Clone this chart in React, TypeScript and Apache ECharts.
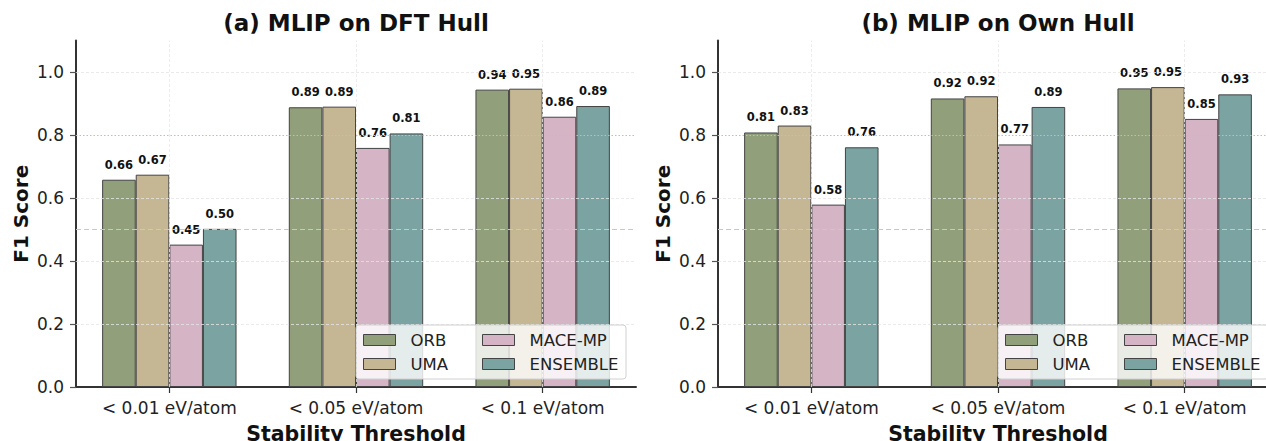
import React, { useEffect, useRef } from 'react';
import * as echarts from 'echarts';

const categories = ['< 0.01 eV/atom', '< 0.05 eV/atom', '< 0.1 eV/atom'];
const seriesNames = ['ORB', 'UMA', 'MACE-MP', 'ENSEMBLE'];
const seriesColors = ['#91a07a', '#c6b794', '#d5b4c6', '#7aa3a2'];
const dftOrb = [0.658, 0.888, 0.944];
const dftUma = [0.674, 0.89, 0.947];
const dftMace = [0.452, 0.759, 0.858];
const dftEns = [0.502, 0.805, 0.892];
const ownOrb = [0.808, 0.916, 0.948];
const ownUma = [0.83, 0.923, 0.952];
const ownMace = [0.579, 0.77, 0.851];
const ownEns = [0.761, 0.889, 0.929];
const yTicks = [0, 0.2, 0.4, 0.6, 0.8, 1.0];
const titles = ['(a) MLIP on DFT Hull', '(b) MLIP on Own Hull'];
const yName = 'F1 Score';
const xName = 'Stability Threshold';

const FONT = 'DejaVu Sans';

export default function App() {
  const ref = useRef<HTMLDivElement>(null);
  useEffect(() => {
    document.body.style.margin = '0';
    if (!ref.current) return;
    const chart = echarts.init(ref.current, null, { renderer: 'svg' });
    const panels = [
      [dftOrb, dftUma, dftMace, dftEns],
      [ownOrb, ownUma, ownMace, ownEns],
    ];
    const gridLefts = [76, 718];
    const gridW = 560;
    const gridTop = 40.5;
    const gridH = 346.5;

    const grids = gridLefts.map((l) => ({ left: l, top: gridTop, width: gridW, height: gridH, outerBoundsMode: 'none', containLabel: false }));
    const xAxes = gridLefts.map((_, i) => ({
      type: 'category',
      gridIndex: i,
      data: categories,
      axisLine: { show: true, lineStyle: { color: '#333', width: 2 } },
      axisTick: { show: true, alignWithLabel: true, length: 6, lineStyle: { color: '#333', width: 1.2 } },
      axisLabel: { fontSize: 17, color: '#222', margin: 12, fontFamily: FONT },
      splitLine: { show: false },
      name: xName,
      nameLocation: 'middle',
      nameGap: 36,
      nameTextStyle: { fontWeight: 'bold', fontSize: 20.5, color: '#111', fontFamily: FONT },
    }));
    const yAxes = gridLefts.map((_, i) => ({
      type: 'value',
      gridIndex: i,
      min: 0,
      max: 1.1,
      interval: 0.2,
      axisLine: { show: true, lineStyle: { color: '#333', width: 2 } },
      axisTick: { show: true, length: 6, customValues: yTicks, lineStyle: { color: '#555', width: 1.2 } },
      axisLabel: { customValues: yTicks, formatter: (v: number) => v.toFixed(1), fontSize: 17, color: '#222', margin: 12, fontFamily: FONT },
      splitLine: { show: false },
      name: yName,
      nameLocation: 'middle',
      nameGap: 45,
      nameRotate: 90,
      nameTextStyle: { fontWeight: 'bold', fontSize: 20, color: '#111', fontFamily: FONT },
    }));

    const series: any[] = [];
    panels.forEach((vals, p) => {
      const hLines = yTicks.filter((t) => t > 0 && Math.abs(t - 0.8) > 1e-9).map((t) => ({
        yAxis: t,
        lineStyle: { color: '#e4e4e4', type: [3, 2], width: 0.8 },
      }));
      const vLines = categories.map((c) => ({ xAxis: c, lineStyle: { color: '#e8e8e8', type: [3, 2], width: 0.8 } }));
      series.push({
        type: 'line',
        name: 'grid' + p,
        xAxisIndex: p,
        yAxisIndex: p,
        data: [],
        z: 1,
        silent: true,
        markLine: {
          silent: true,
          symbol: ['none', 'none'],
          label: { show: false },
          data: [
            ...hLines,
            ...vLines,
            { yAxis: 0.5, lineStyle: { color: '#c8c8c8', type: [5, 3], width: 1.2 } },
            { yAxis: 0.8, lineStyle: { color: '#a9cca9', type: [1.5, 2], width: 1.2 } },
          ],
        },
      });
      vals.forEach((arr, s) => {
        series.push({
          type: 'bar',
          name: seriesNames[s],
          xAxisIndex: p,
          yAxisIndex: p,
          data: arr,
          barWidth: 33.6,
          barGap: '0%',
          z: 2,
          itemStyle: { color: seriesColors[s], borderColor: '#444', borderWidth: 1 },
          label: {
            show: true,
            position: 'top',
            distance: 9,
            formatter: (prm: any) => Number(prm.value).toFixed(2),
            fontSize: 11.5,
            fontWeight: 'bold',
            color: '#111',
            fontFamily: FONT,
          },
        });
      });
    });

    const legendBase = {
      orient: 'vertical',
      itemWidth: 32,
      itemHeight: 11,
      itemGap: 6,
      icon: 'rect',
      selectedMode: false,
      z: 20,
      padding: 0,
      itemStyle: { borderColor: '#444', borderWidth: 1 },
      textStyle: { fontSize: 16.5, color: '#222', fontFamily: FONT, lineHeight: 18, padding: [0, 0, 0, 10] },
    };
    const legends: any[] = [];
    gridLefts.forEach((l) => {
      legends.push({ ...legendBase, left: l + 287, top: 331, data: ['ORB', 'UMA'] });
      legends.push({ ...legendBase, left: l + 406, top: 331, data: ['MACE-MP', 'ENSEMBLE'] });
    });

    const graphics: any[] = [];
    gridLefts.forEach((l, i) => {
      graphics.push({
        type: 'rect',
        z: 10,
        shape: { x: l + 280, y: 325, width: 270, height: 54, r: 3 },
        style: { fill: 'rgba(255,255,255,0.8)', stroke: '#d0d0d0', lineWidth: 1 },
      });
      graphics.push({
        type: 'text',
        z: 10,
        x: l + gridW / 2,
        y: 23,
        style: { text: titles[i], align: 'center', verticalAlign: 'middle', font: `bold 23px "${FONT}"`, fill: '#111' },
      });
    });

    chart.setOption({
      animation: false,
      textStyle: { fontFamily: FONT },
      grid: grids,
      xAxis: xAxes,
      yAxis: yAxes,
      series,
      legend: legends,
      graphic: graphics,
    });
    return () => chart.dispose();
  }, []);
  return <div ref={ref} style={{ width: 1266, height: 441 }} />;
}
